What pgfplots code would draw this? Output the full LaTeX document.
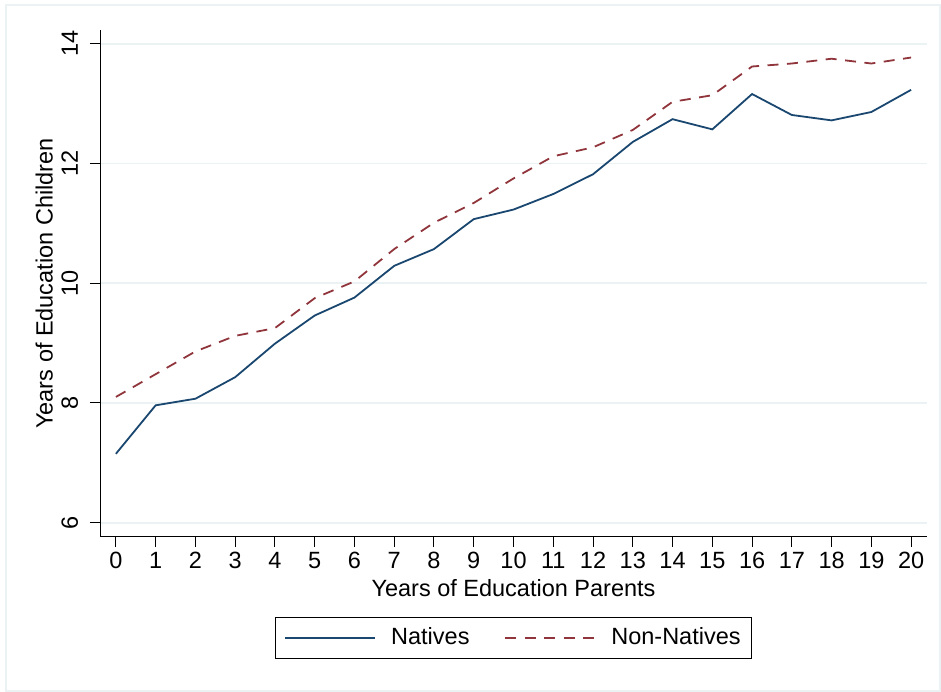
\documentclass[border=0pt]{standalone}
\usepackage{fontspec}
\setmainfont{Liberation Sans}
\usepackage{pgfplots}
\pgfplotsset{compat=1.18}
\definecolor{nat}{RGB}{26,71,111}
\definecolor{nnat}{RGB}{144,53,59}
\definecolor{gridc}{RGB}{234,242,243}
\pgfplotstableread{
x natives nonnatives
0 7.15 8.10
1 7.96 8.48
2 8.07 8.86
3 8.43 9.12
4 8.99 9.25
5 9.46 9.75
6 9.76 10.03
7 10.29 10.57
8 10.57 11.01
9 11.07 11.34
10 11.23 11.75
11 11.49 12.12
12 11.82 12.27
13 12.36 12.56
14 12.74 13.03
15 12.57 13.14
16 13.16 13.62
17 12.81 13.67
18 12.72 13.75
19 12.86 13.67
20 13.23 13.77
}\datatable
\begin{document}
\fontsize{23.5}{28}\selectfont
\begin{tikzpicture}
\path[use as bounding box] (-100pt,-155pt) rectangle (841pt,537pt);
\draw[gridc, line width=1.5pt] (-94pt,-154pt) rectangle (840pt,532pt);
\begin{axis}[
  at={(0pt,0pt)}, anchor=south west,
  scale only axis, width=827pt, height=507pt,
  xmin=-0.4, xmax=20.4, ymin=5.76, ymax=14.23,
  axis x line*=bottom, axis y line*=left,
  xtick={0,...,20}, ytick={6,8,10,12,14},
  tick align=outside, major tick length=10pt,
  tick style={black, line width=1pt},
  axis line style={black, line width=1pt},
  ymajorgrids, major grid style={gridc, line width=1.8pt},
  /pgf/number format/assume math mode=true,
  ticklabel style={font=\fontsize{23.5}{28}\selectfont},
  xticklabel style={anchor=base, yshift=-22pt},
  yticklabel style={xshift=-12pt, rotate=90, anchor=base},
  xlabel={Years of Education Parents},
  ylabel={Years of Education Children},
  label style={font=\fontsize{23.5}{28}\selectfont},
  xlabel style={at={(axis description cs:0.5,-0.1164)}, anchor=base},
  ylabel style={at={(axis description cs:-0.0574,0.5)}, anchor=base},
  legend style={at={(axis description cs:0.5,-0.1992)}, anchor=center,
    draw=black, line width=1pt, font=\fontsize{23.5}{28}\selectfont,
    inner xsep=9pt, inner ysep=8pt,
    legend columns=2,
    /tikz/every odd column/.append style={column sep=13pt},
    /tikz/every even column/.append style={column sep=33pt}},
  legend image code/.code={\draw[#1] (0pt,0pt) -- (90pt,0pt);},
]
\addplot[nat, line width=1.8pt] table[x=x, y=natives] {\datatable};
\addlegendentry{Natives}
\addplot[nnat, line width=1.8pt, dash pattern=on 11pt off 8.5pt] table[x=x, y=nonnatives] {\datatable};
\addlegendentry{Non-Natives}
\end{axis}
\end{tikzpicture}
\end{document}
